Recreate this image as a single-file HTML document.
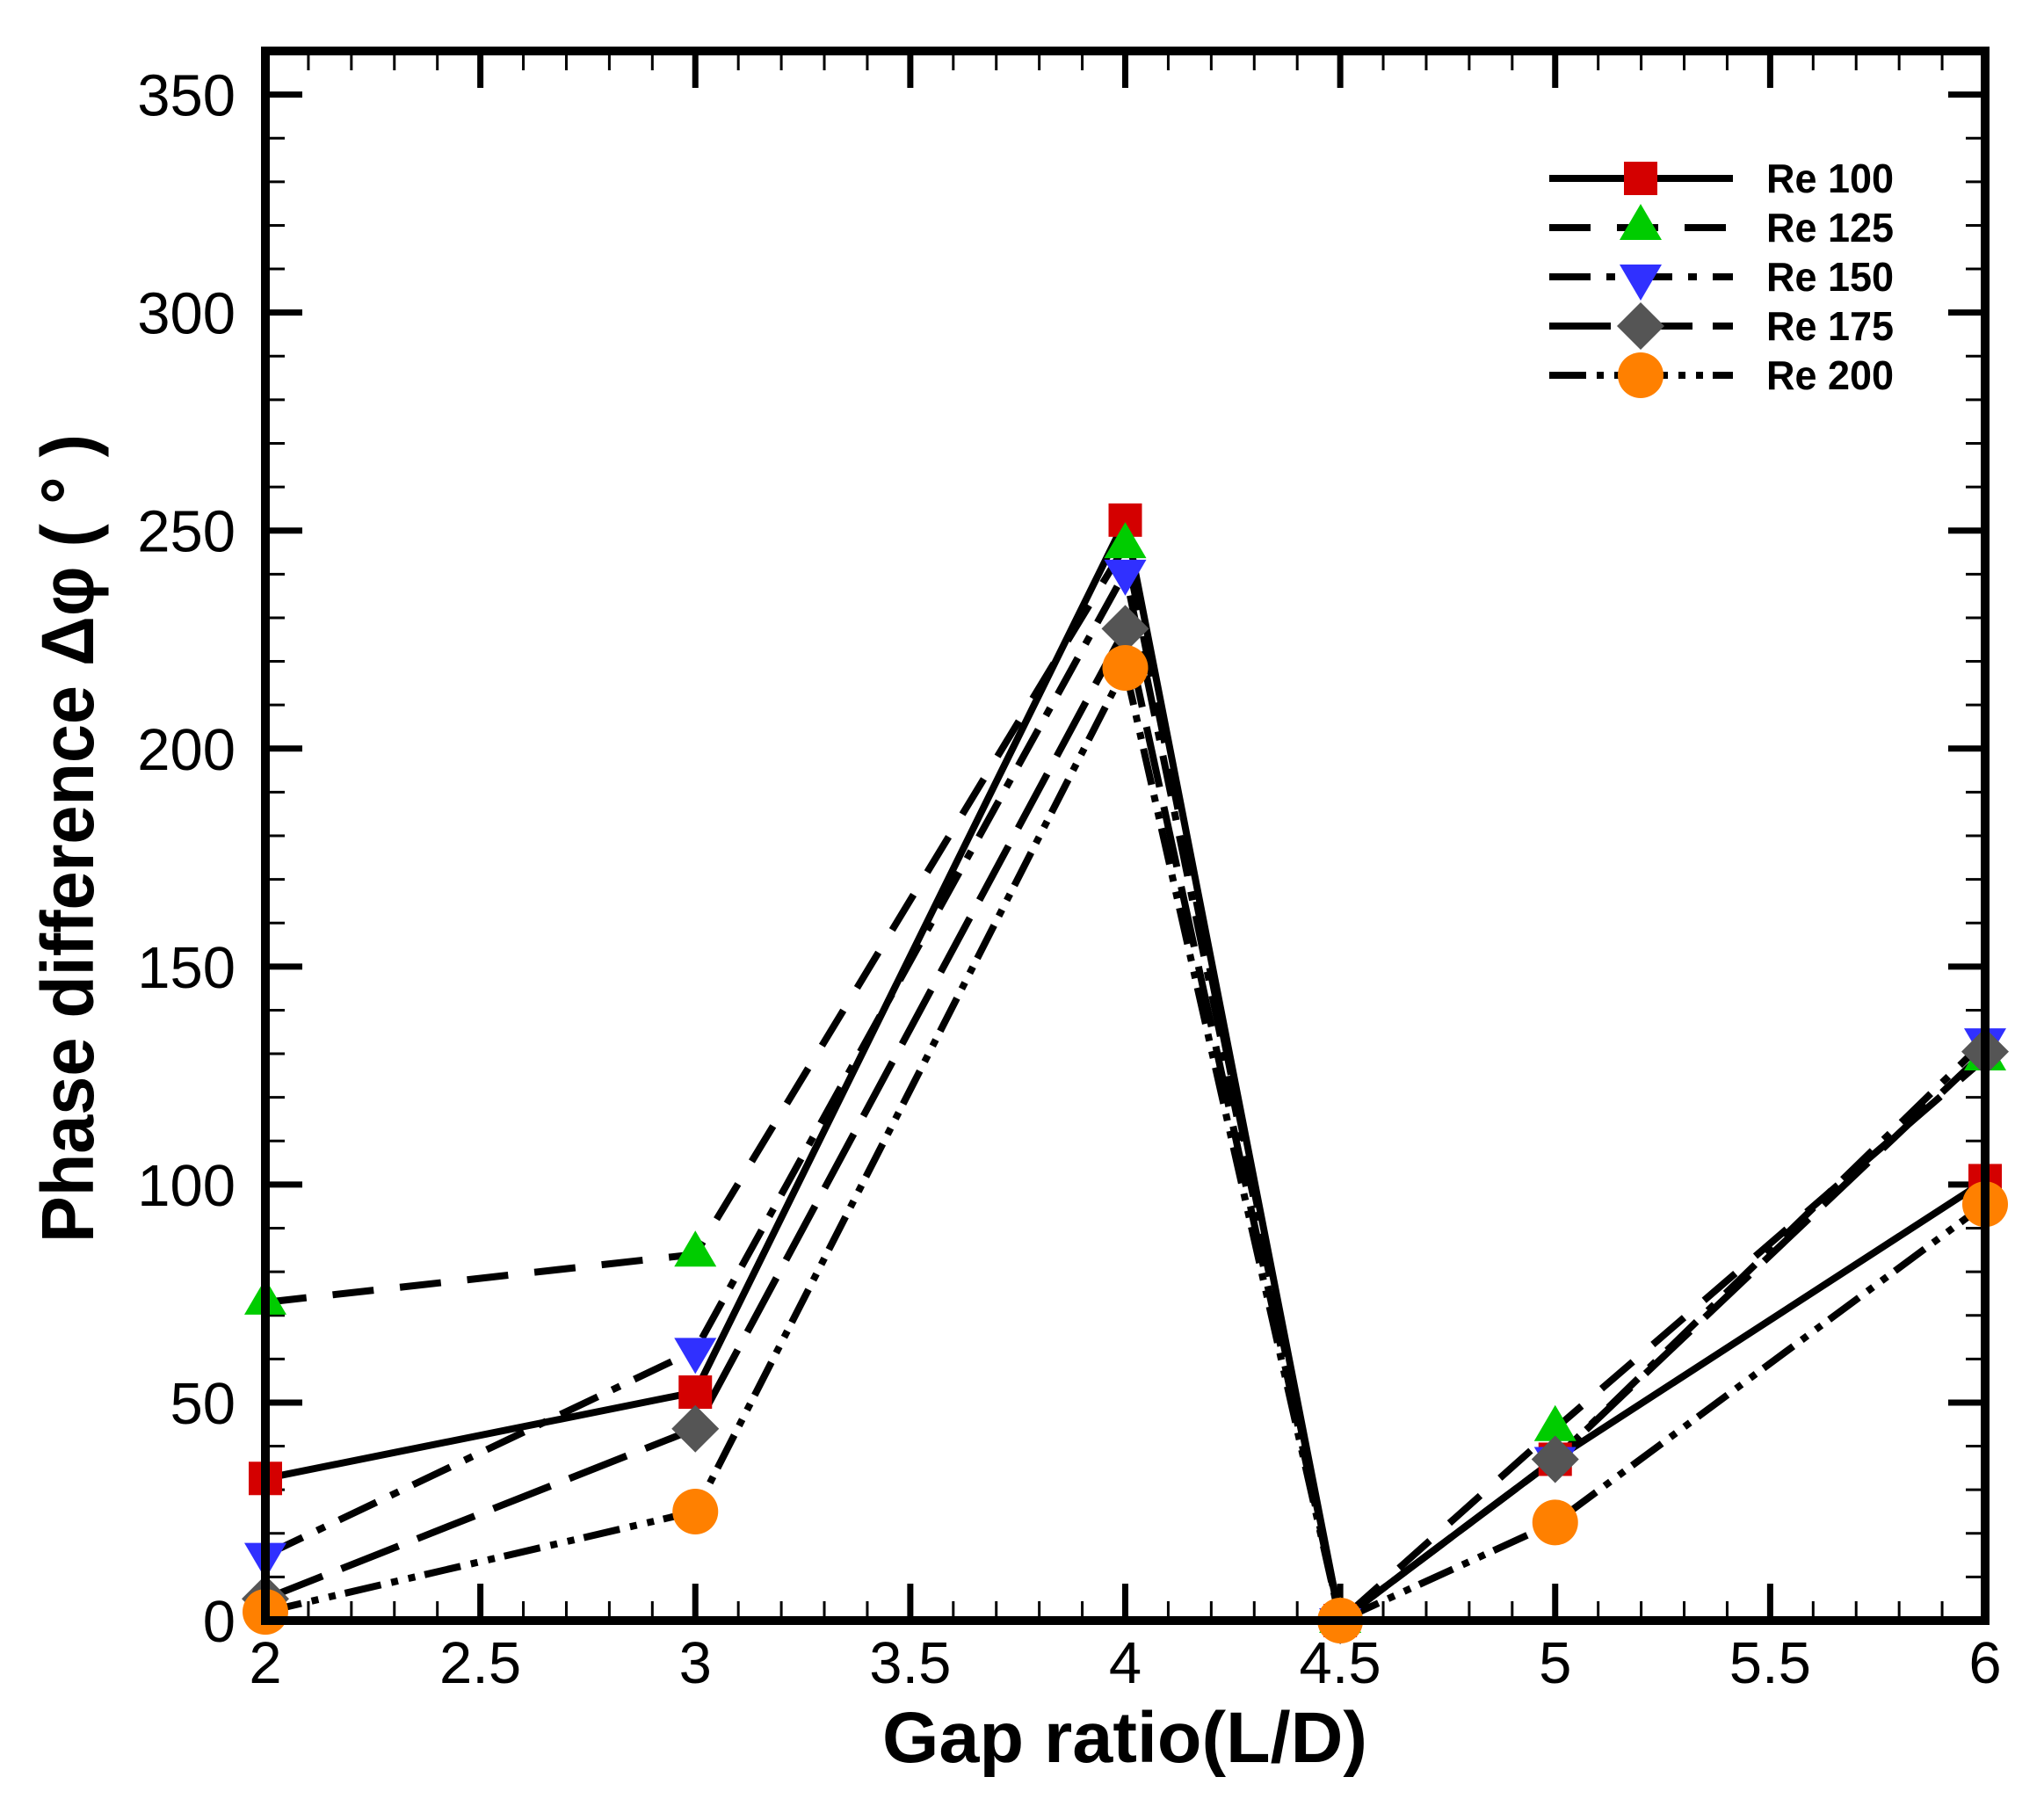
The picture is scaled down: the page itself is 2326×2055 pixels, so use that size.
<!DOCTYPE html>
<html><head><meta charset="utf-8"><style>
html,body{margin:0;padding:0;background:#fff;}
svg{display:block;}
</style></head><body>
<svg id="chart" width="2326" height="2055" viewBox="0 0 2326 2055" xmlns="http://www.w3.org/2000/svg">
<rect x="0" y="0" width="2326" height="2055" fill="#fff"/>
<g id="ticks"></g>
<g id="series"></g>
<g id="markers"></g>
<rect x="302" y="58" width="1957" height="1786" fill="none" stroke="#000" stroke-width="10"/>
<g id="ticklabels" font-family="Liberation Sans, sans-serif" font-size="67" fill="#000"></g>
<text x="1280" y="2005" text-anchor="middle" font-family="Liberation Sans, sans-serif" font-weight="bold" font-size="82" textLength="552" lengthAdjust="spacingAndGlyphs">Gap ratio(L/D)</text>
<text transform="translate(106,954) rotate(-90)" x="0" y="0" text-anchor="middle" font-family="Liberation Sans, sans-serif" font-weight="bold" font-size="84" textLength="920" lengthAdjust="spacingAndGlyphs">Phase difference Δφ ( ° )</text>
<g id="legend"></g>
</svg>
<script>
const gapRatios = [2, 3, 4, 4.5, 5, 6];
const seriesNames = ["Re 100", "Re 125", "Re 150", "Re 175", "Re 200"];
const re100 = [32.6, 52.4, 252.4, 0, 37, 100.9];
const re125 = [73, 84, 246.5, 0, 44, 129];
const re150 = [15, 62, 240.5, 0, 37, 133];
const re175 = [5, 44, 227.5, 0, 37, 130.5];
const re200 = [2, 25, 218.5, 0, 22.5, 95.5];
const xTicks = [2, 2.5, 3, 3.5, 4, 4.5, 5, 5.5, 6];
const xTickLabels = ["2", "2.5", "3", "3.5", "4", "4.5", "5", "5.5", "6"];
const yTicks = [0, 50, 100, 150, 200, 250, 300, 350];
const yTickLabels = ["0", "50", "100", "150", "200", "250", "300", "350"];

const NS = "http://www.w3.org/2000/svg";
const X0 = 302, X1 = 2259, Y0 = 1844, Y1 = 58;
const xMin = 2, xMax = 6, yMin = 0, yMax = 360;
function sx(v){ return X0 + (v - xMin) / (xMax - xMin) * (X1 - X0); }
function sy(v){ return Y0 - (v - yMin) / (yMax - yMin) * (Y0 - Y1); }
function mk(tag, attrs, parent){
  const e = document.createElementNS(NS, tag);
  for (const k in attrs) e.setAttribute(k, attrs[k]);
  parent.appendChild(e); return e;
}
const styles = [
  {data: re100, dash: "none", color: "#d40000", shape: "square"},
  {data: re125, dash: "47 30", color: "#00cc00", shape: "tri-up"},
  {data: re150, dash: "47 18 10 18", color: "#3030ff", shape: "tri-down"},
  {data: re175, dash: "70 23", color: "#555555", shape: "diamond"},
  {data: re200, dash: "42 12 8 12 8 11", color: "#ff8000", shape: "circle"}
];

const tg = document.getElementById("ticks");
for (let i = 0; i <= 40; i++) {
  const v = xMin + i * 0.1;
  const major = i % 5 === 0;
  const L = major ? 42 : 22, w = major ? 7 : 3;
  const x = sx(v);
  let t = mk("line", {x1: x, x2: x, y1: Y0, y2: Y0 - L, stroke: "#000", "stroke-width": w}, tg);
  
  
  t = mk("line", {x1: x, x2: x, y1: Y1, y2: Y1 + L, stroke: "#000", "stroke-width": w}, tg);
  
  
}
for (let v = 0; v <= 360; v += 10) {
  const major = v % 50 === 0;
  const L = major ? 42 : 22, w = major ? 7 : 3;
  const y = sy(v);
  let t = mk("line", {x1: X0, x2: X0 + L, y1: y, y2: y, stroke: "#000", "stroke-width": w}, tg);
  
  
  t = mk("line", {x1: X1, x2: X1 - L, y1: y, y2: y, stroke: "#000", "stroke-width": w}, tg);
  
  
}
const lg = document.getElementById("ticklabels");
xTicks.forEach((v, i) => {
  const t = mk("text", {x: sx(v), y: 1915, "text-anchor": "middle"}, lg);
  t.textContent = xTickLabels[i];
  
  
});
yTicks.forEach((v, i) => {
  const t = mk("text", {x: 268, y: sy(v) + 24, "text-anchor": "end"}, lg);
  t.textContent = yTickLabels[i];
  
  
});

function marker(shape, color, cx, cy, parent){
  let e;
  if (shape === "square") e = mk("rect", {x: cx - 19, y: cy - 19, width: 38, height: 38, fill: color}, parent);
  else if (shape === "tri-up") e = mk("polygon", {points: `${cx},${cy-27} ${cx+24},${cy+14} ${cx-24},${cy+14}`, fill: color}, parent);
  else if (shape === "tri-down") e = mk("polygon", {points: `${cx},${cy+27} ${cx+24},${cy-14} ${cx-24},${cy-14}`, fill: color}, parent);
  else if (shape === "diamond") e = mk("polygon", {points: `${cx},${cy-27} ${cx+27},${cy} ${cx},${cy+27} ${cx-27},${cy}`, fill: color}, parent);
  else e = mk("circle", {cx: cx, cy: cy, r: 26, fill: color}, parent);
  return e;
}

const sg = document.getElementById("series");
const mg = document.getElementById("markers");
styles.forEach((s, si) => {
  const pts = s.data.map((v, i) => sx(gapRatios[i]) + "," + sy(v)).join(" ");
  const pl = mk("polyline", {points: pts, fill: "none", stroke: "#000", "stroke-width": 8, "stroke-dasharray": s.dash}, sg);
  
  
});
styles.forEach((s, si) => {
  s.data.forEach((v, i) => {
    const m = marker(s.shape, s.color, sx(gapRatios[i]), sy(v), mg);
    
    
  });
});

const leg = document.getElementById("legend");
const legY = [203, 259, 315, 371, 427];
styles.forEach((s, si) => {
  const y = legY[si];
  const g = mk("g", {}, leg);
  
  
  mk("line", {x1: 1763, x2: 1972, y1: y, y2: y, stroke: "#000", "stroke-width": 8, "stroke-dasharray": s.dash}, g);
  marker(s.shape, s.color, 1867, y, g);
  const t = mk("text", {x: 2010, y: y + 16, "font-family": "Liberation Sans, sans-serif", "font-weight": "bold", "font-size": 46, textLength: 145, lengthAdjust: "spacingAndGlyphs"}, g);
  t.textContent = seriesNames[si];
});
</script>
</body></html>
